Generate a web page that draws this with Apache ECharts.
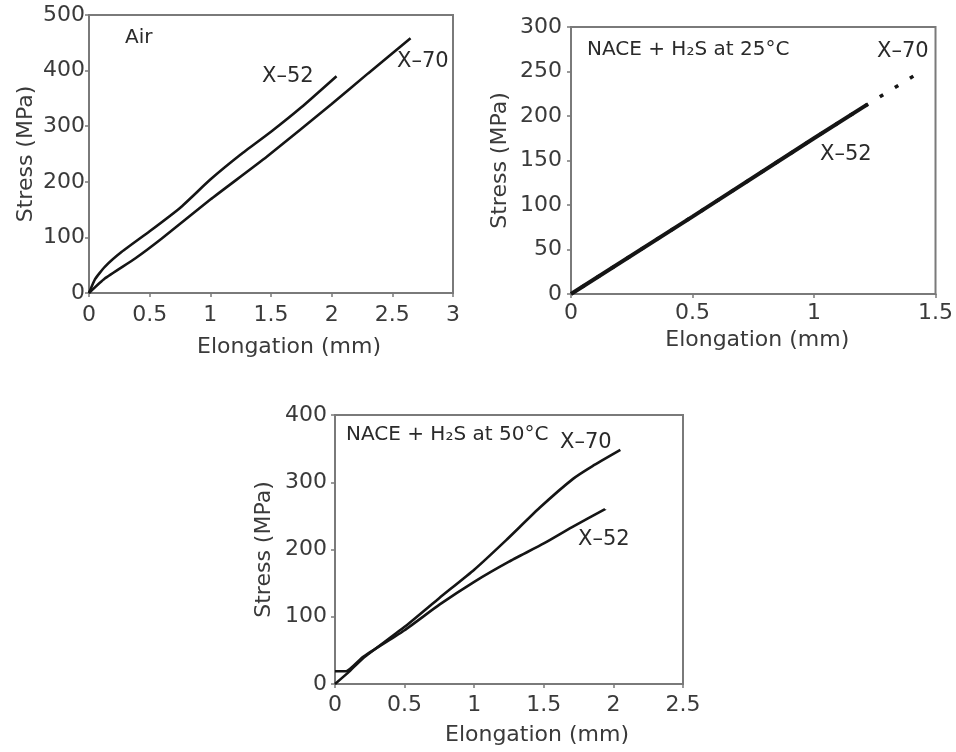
<!DOCTYPE html>
<html>
<head>
<meta charset="utf-8">
<script src="https://cdn.jsdelivr.net/npm/echarts@6/dist/echarts.min.js"></script>
<style>
html,body{margin:0;padding:0;background:#fff;}
#chart{width:956px;height:752px;}
</style>
</head>
<body>
<div id="chart"></div>
<script>
// ---- Panel 1: Air ----
var airX52Elong  = [0, 0.05, 0.13, 0.27, 0.5, 0.75, 1.0, 1.25, 1.5, 1.75, 2.04];
var airX52Stress = [0, 25, 47, 74, 111, 153, 204, 249, 290, 334, 390];
var airX70Elong  = [0, 0.13, 0.38, 0.6, 1.0, 1.465, 2.0, 2.3, 2.65];
var airX70Stress = [0, 26, 62, 98, 168, 245, 340, 395, 458];

// ---- Panel 2: NACE + H2S at 25 C ----
var h25X52Elong  = [0, 0.5, 1.0, 1.22];
var h25X52Stress = [0, 87, 175, 213];
var h25X70Elong  = [0, 0.5, 1.0, 1.22, 1.41];
var h25X70Stress = [0, 87, 175, 213, 245];

// ---- Panel 3: NACE + H2S at 50 C ----
var h50X70Elong  = [0, 0.1, 0.2, 0.5, 0.75, 1.0, 1.23, 1.47, 1.71, 1.85, 2.05];
var h50X70Stress = [0, 18, 38, 85, 128, 170, 214, 262, 305, 324, 348];
var h50X52Elong  = [0, 0.08, 0.2, 0.5, 0.75, 1.0, 1.25, 1.5, 1.7, 1.94];
var h50X52Stress = [19, 19, 40, 80, 118, 152, 182, 209, 233, 260];

// ---- Axis ranges / ticks ----
var xTicks1 = [0, 3, 0.5];   var yTicks1 = [0, 500, 100];
var xTicks2 = [0, 1.5, 0.5]; var yTicks2 = [0, 300, 50];
var xTicks3 = [0, 2.5, 0.5]; var yTicks3 = [0, 400, 100];

var xTitle = 'Elongation (mm)';
var yTitle = 'Stress (MPa)';
var FONT = 'DejaVu Sans';

function pairs(a, b) { return a.map(function (v, i) { return [v, b[i]]; }); }

var axisColor = '#7a7a7a';
var labelColor = '#3a3a3a';

function xAxis(idx, t, margin, gap, shift) {
  return {
    type: 'value', gridIndex: idx, min: t[0], max: t[1], interval: t[2],
    splitLine: { show: false },
    axisLine: { show: true, onZero: false, lineStyle: { color: axisColor, width: 2 } },
    axisTick: { show: true, inside: false, length: 4, lineStyle: { color: axisColor, width: 1.5 } },
    axisLabel: { color: labelColor, fontFamily: FONT, fontSize: 22, margin: margin },
    name: xTitle, nameLocation: 'middle', nameGap: gap,
    nameTextStyle: { color: labelColor, fontFamily: FONT, fontSize: 22, padding: [0, 0, 0, shift] }
  };
}
function yAxis(idx, t, margin, gap) {
  return {
    type: 'value', gridIndex: idx, min: t[0], max: t[1], interval: t[2],
    splitLine: { show: false },
    axisLine: { show: true, onZero: false, lineStyle: { color: axisColor, width: 2 } },
    axisTick: { show: true, inside: false, length: 4, lineStyle: { color: axisColor, width: 1.5 } },
    axisLabel: { color: labelColor, fontFamily: FONT, fontSize: 22, margin: margin },
    name: yTitle, nameLocation: 'middle', nameGap: gap, nameRotate: 90,
    nameTextStyle: { color: labelColor, fontFamily: FONT, fontSize: 22 }
  };
}
function line(idx, data, width, extra) {
  var s = {
    type: 'line', xAxisIndex: idx, yAxisIndex: idx, data: data,
    showSymbol: false, symbol: 'none', smooth: 0.15, animation: false,
    lineStyle: { color: '#151515', width: width, type: 'solid' },
    z: 3
  };
  if (extra) for (var k in extra) s[k] = extra[k];
  return s;
}
function txt(x, y, text, size) {
  return {
    type: 'text', x: x, y: y, z: 10,
    style: { text: text, font: (size || 21) + 'px "' + FONT + '"', fill: '#2a2a2a', align: 'left', verticalAlign: 'middle' }
  };
}

var gridStyle = { show: true, borderColor: axisColor, borderWidth: 2, backgroundColor: 'transparent', containLabel: false };
var chart = echarts.init(document.getElementById('chart'), null, { renderer: 'canvas' });
chart.setOption({
  animation: false,
  backgroundColor: '#fff',
  grid: [
    Object.assign({ left: 89, top: 15, width: 364, height: 278 }, gridStyle),
    Object.assign({ left: 571, top: 27, width: 366, height: 267 }, gridStyle),
    Object.assign({ left: 335, top: 415, width: 348, height: 269 }, gridStyle)
  ],
  xAxis: [
    xAxis(0, xTicks1, 11, 43, 36),
    xAxis(1, xTicks2, 8, 35, 8),
    xAxis(2, xTicks3, 10, 40, 56)
  ],
  yAxis: [
    yAxis(0, yTicks1, 4, 52),
    yAxis(1, yTicks2, 9, 60),
    yAxis(2, yTicks3, 8, 60)
  ],
  series: [
    line(0, pairs(airX52Elong, airX52Stress), 2.6),
    line(0, pairs(airX70Elong, airX70Stress), 2.6),
    line(1, pairs(h25X70Elong, h25X70Stress), 3.5, { smooth: false, z: 2, lineStyle: { color: '#151515', width: 3.5, type: [4, 13.7], dashOffset: 5.3 } }),
    line(1, pairs(h25X52Elong, h25X52Stress), 4, { smooth: false }),
    line(2, pairs(h50X70Elong, h50X70Stress), 2.6),
    line(2, pairs(h50X52Elong, h50X52Stress), 2.6)
  ],
  graphic: [
    txt(125, 38, 'Air', 20),
    txt(262, 77, 'X\u201352'),
    txt(397, 62, 'X\u201370'),
    txt(587, 50, 'NACE + H\u2082S at 25\u00b0C', 20),
    txt(877, 52, 'X\u201370'),
    txt(820, 155, 'X\u201352'),
    txt(346, 435, 'NACE + H\u2082S at 50\u00b0C', 20),
    txt(560, 443, 'X\u201370'),
    txt(578, 540, 'X\u201352')
  ]
});
</script>
</body>
</html>
